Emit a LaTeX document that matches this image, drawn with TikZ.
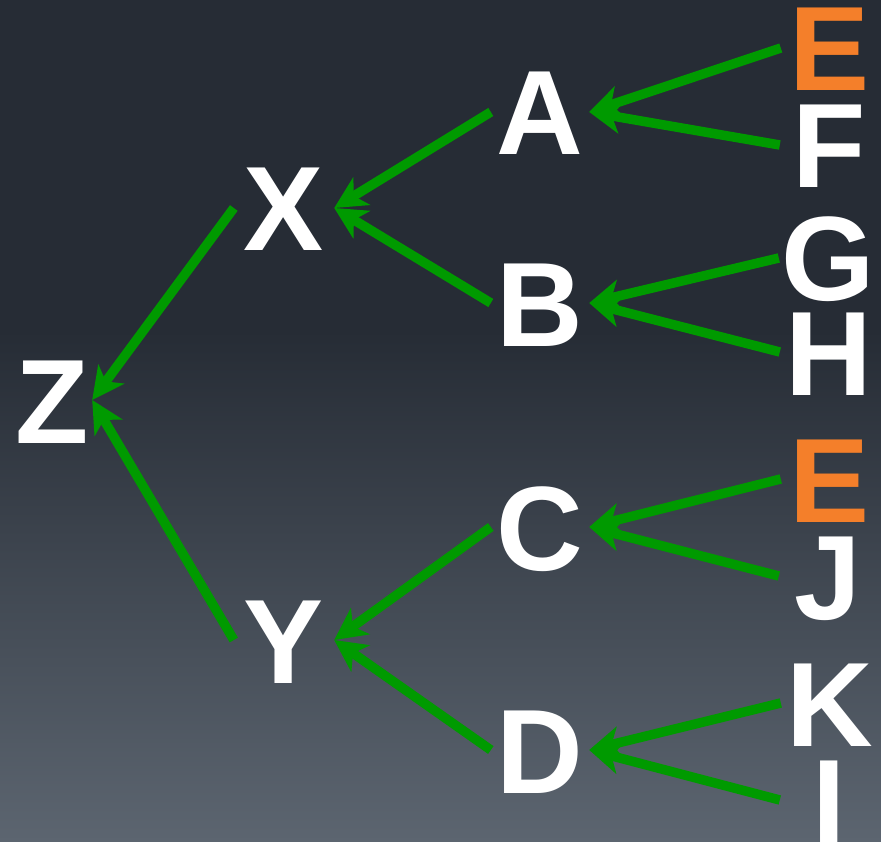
\documentclass[tikz,border=0pt]{standalone}
\usepackage{fontspec}
\setmainfont{Liberation Sans}
\usetikzlibrary{arrows.meta}

\definecolor{bgtop}{HTML}{262C35}
\definecolor{bgbottom}{HTML}{5C6570}
\definecolor{linkgreen}{HTML}{009A00}
\definecolor{hiorange}{HTML}{F47F2A}

\tikzset{
  letter/.style={font=\fontsize{120}{120}\selectfont\bfseries, text=white,
    inner sep=0pt, text height=86pt, text depth=0pt, anchor=center},
  rootcol/.style={letter, minimum width=80pt},
  midcol/.style={letter, minimum width=100pt},
  innercol/.style={letter, minimum width=98pt},
  leafcol/.style={letter, minimum width=98pt},
  marked/.style={text=hiorange},
  link/.style={draw=linkgreen, line width=9.5pt,
    -{Stealth[length=32pt, width=32pt, inset=9pt, fill=linkgreen]}}
}

\begin{document}
\begin{tikzpicture}[x=1pt, y=-1pt]
  % backdrop: flat dark top, fading lighter toward the bottom
  \useasboundingbox (0,0) rectangle (881,842);
  \fill[bgtop] (0,0) rectangle (881,842);
  \shade[top color=bgtop, bottom color=bgbottom] (0,330) rectangle (881,842);

  % root
  \node[rootcol] (z) at (52,400) {Z};

  % second level
  \node[midcol] (x) at (284,208) {X};
  \node[midcol] (y) at (284,640) {Y};

  % third level
  \node[innercol] (a) at (540,112) {A};
  \node[innercol] (b) at (540,303) {B};
  \node[innercol] (c) at (540,527) {C};
  \node[innercol] (d) at (540,750) {D};

  % leaves
  \node[leafcol, marked] (e1) at (830,48) {E};
  \node[leafcol] (f) at (829,145) {F};
  \node[leafcol] (g) at (828,258) {G};
  \node[leafcol] (h) at (829,352) {H};
  \node[leafcol, marked] (e2) at (830,479) {E};
  \node[leafcol] (j) at (828,576) {J};
  \node[leafcol] (k) at (830,703) {K};
  \node[leafcol] (i) at (829,800) {I};

  % links point from child to parent
  \draw[link] (e1.west) -- (a.east);
  \draw[link] (f.west)  -- (a.east);
  \draw[link] (g.west)  -- (b.east);
  \draw[link] (h.west)  -- (b.east);
  \draw[link] (e2.west) -- (c.east);
  \draw[link] (j.west)  -- (c.east);
  \draw[link] (k.west)  -- (d.east);
  \draw[link] (i.west)  -- (d.east);

  \draw[link] (a.west) -- (x.east);
  \draw[link] (b.west) -- (x.east);
  \draw[link] (c.west) -- (y.east);
  \draw[link] (d.west) -- (y.east);

  \draw[link] (x.west) -- (z.east);
  \draw[link] (y.west) -- (z.east);
\end{tikzpicture}
\end{document}
